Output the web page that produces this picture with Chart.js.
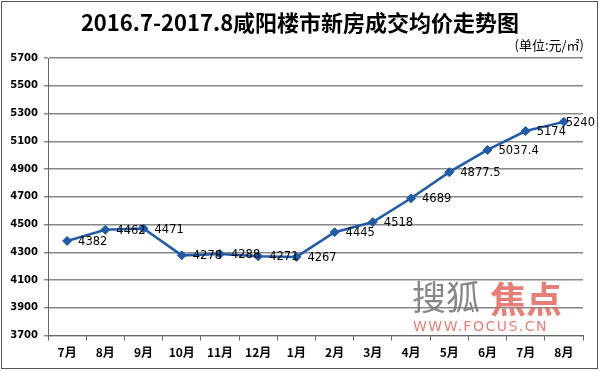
<!DOCTYPE html>
<html>
<head>
<meta charset="utf-8">
<script src="https://cdn.jsdelivr.net/npm/chart.js@4.4.1/dist/chart.umd.min.js"></script>
<style>
  html, body { margin: 0; padding: 0; background: #fff; }
  #wrap { width: 600px; height: 371px; position: relative; }
</style>
</head>
<body>
<div id="wrap"><canvas id="c" width="600" height="371"></canvas></div>
<script>
const months = ['7月', '8月', '9月', '10月', '11月', '12月', '1月', '2月', '3月', '4月', '5月', '6月', '7月', '8月'];
const prices = [4382, 4462, 4471, 4278, 4288, 4271, 4267, 4445, 4518, 4689, 4877.5, 5037.4, 5174, 5240];
const chartTitle = '2016.7-2017.8咸阳楼市新房成交均价走势图';
const unitText = '(单位:元/㎡)';

const blue = '#1f5ba8';

// title, unit, frame, watermark and point labels
const decor = {
  id: 'decor',
  afterDraw(chart) {
    const ctx = chart.ctx;
    ctx.save();
    ctx.strokeStyle = '#555';
    ctx.lineWidth = 1;
    ctx.strokeRect(1.5, 1.5, 596, 367);

    ctx.fillStyle = '#000';
    ctx.textAlign = 'center';
    ctx.textBaseline = 'middle';
    ctx.font = 'bold 22px "Noto Sans CJK SC", "DejaVu Sans", sans-serif';
    ctx.fillText(chartTitle, 300, 23);

    ctx.textAlign = 'right';
    ctx.font = '13px "Noto Sans CJK SC", sans-serif';
    ctx.fillText(unitText, 584, 45);

    // watermark
    ctx.textAlign = 'left';
    ctx.font = '34px "Noto Sans CJK SC", sans-serif';
    ctx.fillStyle = 'rgba(115,115,115,0.85)';
    ctx.fillText('搜狐', 412, 297);
    ctx.font = 'bold 36px "Noto Sans CJK SC", sans-serif';
    ctx.fillStyle = 'rgba(225,95,85,0.8)';
    ctx.fillText('焦点', 490, 299);
    ctx.font = '14px "DejaVu Sans", sans-serif';
    if ('letterSpacing' in ctx) ctx.letterSpacing = '1.5px';
    ctx.fillText('WWW.FOCUS.CN', 413, 327);
    if ('letterSpacing' in ctx) ctx.letterSpacing = '0px';

    // value labels
    const meta = chart.getDatasetMeta(0);
    ctx.fillStyle = '#000';
    ctx.font = '11.5px "DejaVu Sans", sans-serif';
    ctx.textBaseline = 'middle';
    meta.data.forEach((pt, i) => {
      const s = String(prices[i]);
      const w = ctx.measureText(s).width;
      const x = Math.min(pt.x + 11, 595 - w);
      ctx.fillText(s, x, pt.y + 1);
    });
    ctx.restore();
  }
};

new Chart(document.getElementById('c').getContext('2d'), {
  type: 'line',
  data: {
    labels: months,
    datasets: [{
      data: prices,
      borderColor: blue,
      backgroundColor: blue,
      borderWidth: 2.5,
      pointStyle: 'rectRot',
      pointRadius: 4.5,
      pointBorderWidth: 1,
      tension: 0
    }]
  },
  options: {
    responsive: false,
    animation: false,
    layout: { padding: { top: 58, right: 17, left: 4, bottom: 6 } },
    plugins: {
      legend: { display: false },
      tooltip: { enabled: false },
      title: { display: false }
    },
    scales: {
      x: {
        offset: true,
        grid: {
          display: true,
          drawOnChartArea: false,
          drawTicks: true,
          tickLength: 5,
          color: '#666',
          offset: true
        },
        border: { color: '#666' },
        ticks: {
          color: '#000',
          font: { size: 12, weight: 'bold', family: '"Noto Sans CJK SC", sans-serif' },
          padding: 5,
          maxRotation: 0,
          autoSkip: false
        }
      },
      y: {
        min: 3700,
        max: 5700,
        afterFit(scale) { scale.width = 44; },
        ticks: {
          stepSize: 200,
          color: '#000',
          font: { size: 10, weight: 'bold', family: '"DejaVu Sans", sans-serif' },
          padding: 6,
          callback: v => String(v)
        },
        grid: {
          color: '#888',
          lineWidth: 1.5,
          tickLength: 4
        },
        border: { color: '#666' }
      }
    }
  },
  plugins: [decor]
});
</script>
</body>
</html>
